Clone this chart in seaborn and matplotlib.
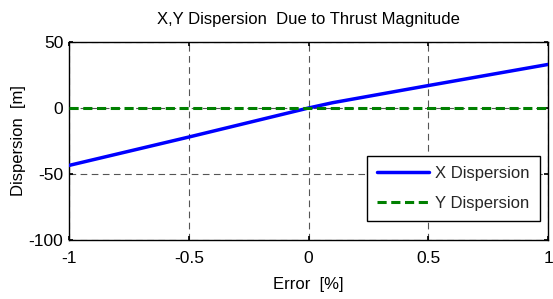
import matplotlib
matplotlib.use("Agg")
import matplotlib.pyplot as plt
import seaborn as sns
import pandas as pd

# Data
error_pct = [-1.0, -0.5, 0.0, 0.1, 0.5, 1.0]
x_disp = [-43.5, -22.0, 0.0, 4.0, 17.0, 33.0]
y_disp = [0.0, 0.0, 0.0, 0.0, 0.0, 0.0]
xticks = [-1, -0.5, 0, 0.5, 1]
xticklabels = ["-1", "-0.5", "0", "0.5", "1"]
yticks = [-100, -50, 0, 50]
yticklabels = ["-100", "-50", "0", "50"]

sns.set_theme(style="white")
plt.rcParams['font.family'] = ['Liberation Sans', 'DejaVu Sans']

df = pd.DataFrame({"Error": error_pct, "X Dispersion": x_disp, "Y Dispersion": y_disp})

fig = plt.figure(figsize=(5.53, 2.99), dpi=100)
ax = fig.add_axes([0.1248, 0.1973, 0.8662, 0.6622])

sns.lineplot(data=df, x="Error", y="X Dispersion", ax=ax, color="#0000ff",
             linewidth=2.5, label="X Dispersion", zorder=3)
sns.lineplot(data=df, x="Error", y="Y Dispersion", ax=ax, color="#008000",
             linewidth=2.2, linestyle=(0, (3, 1.5)), label="Y Dispersion", zorder=3)

ax.set_xlim(-1, 1)
ax.set_ylim(-100, 50)
ax.set_xticks(xticks)
ax.set_xticklabels(xticklabels)
ax.set_yticks(yticks)
ax.set_yticklabels(yticklabels)
ax.tick_params(direction="in", length=3, labelsize=12.5, colors="black", pad=4,
               top=True, right=True, bottom=True, left=True)
ax.tick_params(axis="x", pad=8)
ax.grid(True, color="#555555", linestyle=(0, (6, 4)), linewidth=0.8)
for s in ax.spines.values():
    s.set_color("black")
    s.set_linewidth(1.0)

ax.set_title("X,Y Dispersion  Due to Thrust Magnitude", fontsize=12, color="black", pad=13)
ax.set_xlabel("Error  [%]", fontsize=12, color="black", labelpad=8)
ax.set_ylabel("Dispersion  [m]", fontsize=12, color="black", labelpad=2)

leg = ax.legend(loc="lower right", bbox_to_anchor=(0.983, 0.096), fontsize=12,
                frameon=True, fancybox=False, edgecolor="black", framealpha=1,
                borderpad=0.6, handlelength=3.1, handletextpad=0.4,
                labelspacing=0.9, borderaxespad=0.0)
leg.get_frame().set_linewidth(1.0)

fig.savefig("out.png", dpi=100)
